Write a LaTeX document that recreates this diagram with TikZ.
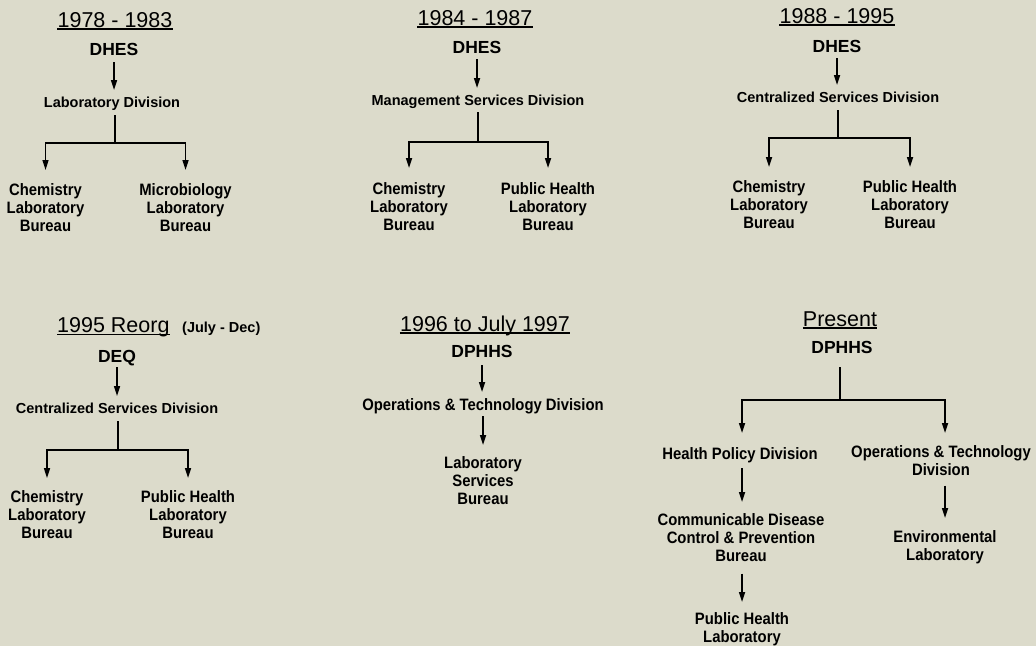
\documentclass[tikz,border=0pt]{standalone}
\usepackage{fontspec}
\setmainfont{Liberation Sans}
\newfontfamily\leaffam[FakeStretch=0.9]{Liberation Sans}
\usetikzlibrary{arrows.meta,calc}
\definecolor{bg}{RGB}{220,219,203}
\begin{document}
\begin{tikzpicture}[x=1pt,y=-1pt,
  every node/.style={inner sep=0pt,text=black},
  ttl/.style={font=\fontsize{21.5}{24}\selectfont},
  hd/.style={font=\bfseries\fontsize{17.5}{20}\selectfont},
  dv/.style={font=\bfseries\fontsize{14.5}{17}\selectfont},
  lf/.style={font=\leaffam\bfseries\fontsize{16.5}{18}\selectfont,align=center},
  ul/.style={line width=1.3pt},
  ln/.style={line width=1.6pt,black},
  arr/.style={ln,-{Triangle[length=10pt,width=6pt]}}]
\fill[bg] (0,0) rectangle (1036,646);
\useasboundingbox (0,0) rectangle (1036,646);

% ---------- 1978 - 1983
\node[ttl,anchor=base] (t1) at (115,27) {1978 - 1983};
\draw[ul] ($(t1.base west)+(0,2)$) -- ($(t1.base east)+(0,2)$);
\node[hd,anchor=base] (h1) at (114,55) {DHES};
\node[dv,anchor=base] (d1) at (112,107) {Laboratory Division};
\coordinate (j1) at (115,143);
\node[lf,anchor=north] (l1a) at (45.5,183) {Chemistry\\Laboratory\\Bureau};
\node[lf,anchor=north] (l1b) at (185.5,183) {Microbiology\\Laboratory\\Bureau};
\draw[arr] ($(h1.base)+(0,7)$) -- ($(h1.base |- d1.base)+(0,-17)$);
\draw[ln] ($(d1.base -| j1)+(0,8)$) -- (j1);
\draw[arr] (j1) -| ($(l1a.north)+(0,-13)$);
\draw[arr] (j1) -| ($(l1b.north)+(0,-13)$);

% ---------- 1984 - 1987
\node[ttl,anchor=base] (t2) at (475,25) {1984 - 1987};
\draw[ul] ($(t2.base west)+(0,2)$) -- ($(t2.base east)+(0,2)$);
\node[hd,anchor=base] (h2) at (477,53) {DHES};
\node[dv,anchor=base] (d2) at (478,105) {Management Services Division};
\coordinate (j2) at (478,142);
\node[lf,anchor=north] (l2a) at (409,182) {Chemistry\\Laboratory\\Bureau};
\node[lf,anchor=north] (l2b) at (548,182) {Public Health\\Laboratory\\Bureau};
\draw[arr] ($(h2.base)+(0,6)$) -- ($(h2.base |- d2.base)+(0,-17)$);
\draw[ln] ($(d2.base -| j2)+(0,7)$) -- (j2);
\draw[arr] (j2) -| ($(l2a.north)+(0,-14)$);
\draw[arr] (j2) -| ($(l2b.north)+(0,-14)$);

% ---------- 1988 - 1995
\node[ttl,anchor=base] (t3) at (837,23) {1988 - 1995};
\draw[ul] ($(t3.base west)+(0,2)$) -- ($(t3.base east)+(0,2)$);
\node[hd,anchor=base] (h3) at (837,52) {DHES};
\node[dv,anchor=base] (d3) at (838,102) {Centralized Services Division};
\coordinate (j3) at (838,138);
\node[lf,anchor=north] (l3a) at (769,180) {Chemistry\\Laboratory\\Bureau};
\node[lf,anchor=north] (l3b) at (910,180) {Public Health\\Laboratory\\Bureau};
\draw[arr] ($(h3.base)+(0,6)$) -- ($(h3.base |- d3.base)+(0,-17)$);
\draw[ln] ($(d3.base -| j3)+(0,8)$) -- (j3);
\draw[arr] (j3) -| ($(l3a.north)+(0,-13)$);
\draw[arr] (j3) -| ($(l3b.north)+(0,-13)$);

% ---------- 1995 Reorg
\node[ttl,anchor=base west] (t4) at (57,332) {1995 Reorg};
\draw[ul] ($(t4.base west)+(0,2.5)$) -- ($(t4.base east)+(0,2.5)$);
\node[dv,anchor=base west] (t4b) at (182,332) {(July - Dec)};
\node[hd,anchor=base] (h4) at (117,362) {DEQ};
\node[dv,anchor=base] (d4) at (117,413) {Centralized Services Division};
\coordinate (j4) at (118,450);
\node[lf,anchor=north] (l4a) at (47,490) {Chemistry\\Laboratory\\Bureau};
\node[lf,anchor=north] (l4b) at (188,490) {Public Health\\Laboratory\\Bureau};
\draw[arr] ($(h4.base)+(0,5)$) -- ($(h4.base |- d4.base)+(0,-17)$);
\draw[ln] ($(d4.base -| j4)+(0,8)$) -- (j4);
\draw[arr] (j4) -| ($(l4a.north)+(0,-12)$);
\draw[arr] (j4) -| ($(l4b.north)+(0,-12)$);

% ---------- 1996 to July 1997
\node[ttl,anchor=base] (t5) at (485,331) {1996 to July 1997};
\draw[ul] ($(t5.base west)+(0,2)$) -- ($(t5.base east)+(0,2)$);
\node[hd,anchor=base] (h5) at (482,357) {DPHHS};
\node[lf,anchor=base] (d5) at (483,410) {Operations \& Technology Division};
\node[lf,anchor=north] (l5) at (483,456) {Laboratory\\Services\\Bureau};
\draw[arr] ($(h5.base)+(0,8)$) -- ($(h5.base |- d5.base)+(0,-18)$);
\draw[arr] ($(d5.base -| l5.north)+(0,6)$) -- ($(l5.north)+(0,-11)$);

% ---------- Present
\node[ttl,anchor=base] (t6) at (840,326) {Present};
\draw[ul] ($(t6.base west)+(0,2)$) -- ($(t6.base east)+(0,2)$);
\node[hd,anchor=base] (h6) at (842,353) {DPHHS};
\coordinate (j6) at (840,400);
\node[lf,anchor=north] (hp) at (740,447) {Health Policy Division};
\node[lf,anchor=north] (ot) at (941,445) {Operations \& Technology\\Division};
\node[lf,anchor=north] (cdc) at (741,513) {Communicable Disease\\Control \& Prevention\\Bureau};
\node[lf,anchor=north] (phl) at (742,612) {Public Health\\Laboratory};
\node[lf,anchor=north] (el) at (945,530) {Environmental\\Laboratory};
\draw[ln] ($(h6.base -| j6)+(0,14)$) -- (j6);
\draw[arr] (j6) -| ($(hp.north)+(2,-14)$);
\draw[arr] (j6) -| ($(el.north |- ot.north)+(0,-12)$);
\draw[arr] ($(hp.north)+(2,21)$) -- ($(cdc.north)+(1,-11)$);
\draw[arr] ($(cdc.south)+(1,12)$) -- ($(phl.north)+(0,-10)$);
\draw[arr] ($(el.north |- ot.south)+(0,10)$) -- ($(el.north)+(0,-12)$);
\end{tikzpicture}
\end{document}
